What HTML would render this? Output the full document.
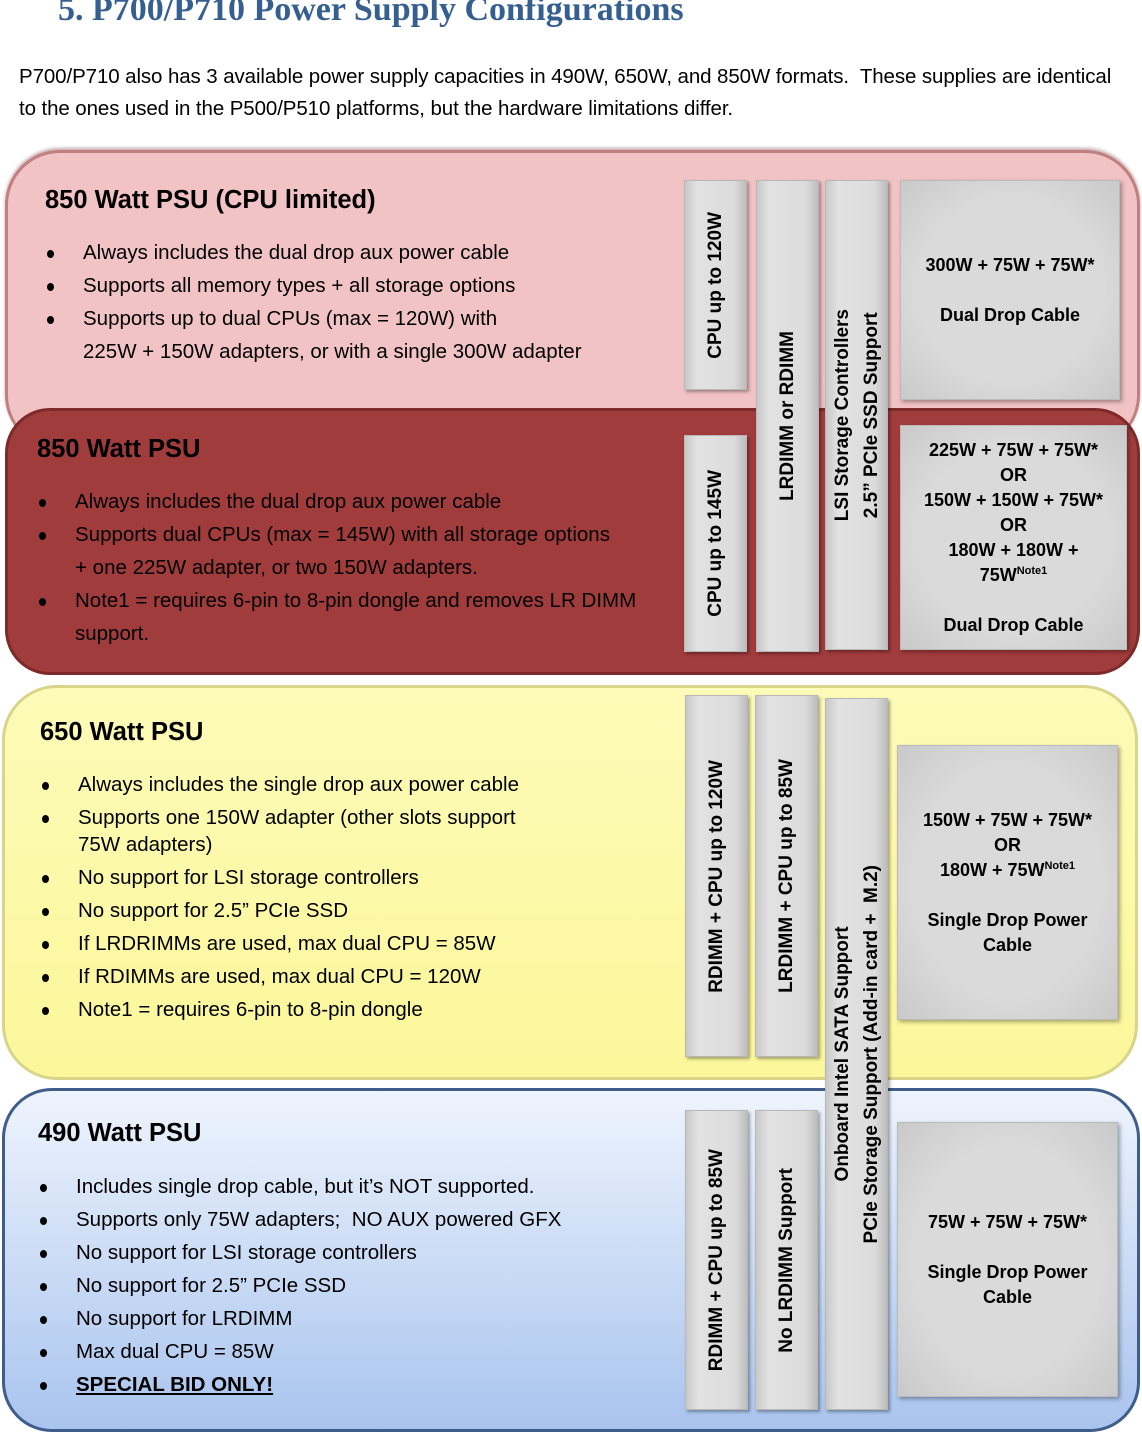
<!DOCTYPE html>
<html><head><meta charset="utf-8"><style>
*{margin:0;padding:0;box-sizing:border-box}
body{width:1142px;height:1434px;background:#fff;position:relative;overflow:hidden;font-family:"Liberation Sans",sans-serif;color:#000}
.a{position:absolute}
.panel{position:absolute;border-radius:55px}
.bar{position:absolute;background:linear-gradient(90deg,#c8c8c8,#e2e2e2 20%,#dcdcdc 80%,#bdbdbd);border:1px solid #b8b8b8;box-shadow:2px 2px 3px rgba(0,0,0,.35);display:flex;align-items:center;justify-content:center}
.bar span{writing-mode:vertical-rl;transform:rotate(180deg);font-weight:bold;font-size:19px;white-space:nowrap;line-height:29px;text-align:center}
.box{position:absolute;background:radial-gradient(ellipse at center,#dadada 60%,#c9c9c9);border:1px solid #bbb;box-shadow:2px 2px 4px rgba(0,0,0,.35);display:flex;align-items:center;justify-content:center;text-align:center;font-weight:bold;font-size:18px;line-height:25px}
.box div{white-space:nowrap}
sup{font-size:11px;vertical-align:7px;line-height:0}
.h{position:absolute;font-size:25.5px;font-weight:bold}
ul{position:absolute;list-style:none;font-size:20.5px;white-space:nowrap}
ul li{position:relative;padding-left:38px}
ul li:before{content:"";position:absolute;left:2px;top:14px;width:7px;height:8px;border-radius:50%;background:#000}
</style></head><body>
<div class="a" style="left:58px;top:-9px;font-family:'Liberation Serif',serif;font-weight:bold;font-size:34px;color:#365f91">5. P700/P710 Power Supply Configurations</div>
<div class="a" style="left:19px;top:61px;font-size:20.5px;line-height:32px;width:1140px;white-space:nowrap;letter-spacing:-0.1px">P700/P710 also has 3 available power supply capacities in 490W, 650W, and 850W formats.&nbsp; These supplies are identical<br>to the ones used in the P500/P510 platforms, but the hardware limitations differ.</div>

<div class="panel" style="left:5px;top:150px;width:1135px;height:300px;background:#f2c3c4;border:3px solid #c08080;box-shadow:0 -2px 3px rgba(120,40,40,.4)"></div>
<div class="panel" style="left:5px;top:408px;width:1135px;height:267px;background:#a13c3c;border:3px solid #7e2a2a;border-radius:45px"></div>
<div class="panel" style="left:2px;top:685px;width:1136px;height:395px;background:linear-gradient(#fdfbb8,#fbf79a);border:3px solid #d8d48a"></div>
<div class="panel" style="left:2px;top:1088px;width:1138px;height:344px;background:linear-gradient(#eef4fd,#a9c4ee);border:3px solid #3e5d8a;border-radius:50px"></div>

<div class="h" style="left:45px;top:186px">850 Watt PSU (CPU limited)</div>
<ul style="left:45px;top:236px;line-height:33px">
<li>Always includes the dual drop aux power cable</li>
<li>Supports all memory types + all storage options</li>
<li>Supports up to dual CPUs (max = 120W) with<br>225W + 150W adapters, or with a single 300W adapter</li></ul>

<div class="h" style="left:37px;top:435px">850 Watt PSU</div>
<ul style="left:37px;top:485px;line-height:33px">
<li>Always includes the dual drop aux power cable</li>
<li>Supports dual CPUs (max = 145W) with all storage options<br>+ one 225W adapter, or two 150W adapters.</li>
<li>Note1 = requires 6-pin to 8-pin dongle and removes LR DIMM<br>support.</li></ul>

<div class="h" style="left:40px;top:718px">650 Watt PSU</div>
<ul style="left:40px;top:768px;line-height:33px">
<li>Always includes the single drop aux power cable</li>
<li style="line-height:27px;padding-top:3px;padding-bottom:3px">Supports one 150W adapter (other slots support<br>75W adapters)</li>
<li>No support for LSI storage controllers</li>
<li>No support for 2.5” PCIe SSD</li>
<li>If LRDRIMMs are used, max dual CPU = 85W</li>
<li>If RDIMMs are used, max dual CPU = 120W</li>
<li>Note1 = requires 6-pin to 8-pin dongle</li></ul>

<div class="h" style="left:38px;top:1119px">490 Watt PSU</div>
<ul style="left:38px;top:1170px;line-height:33px">
<li>Includes single drop cable, but it’s NOT supported.</li>
<li>Supports only 75W adapters;&nbsp; NO AUX powered GFX</li>
<li>No support for LSI storage controllers</li>
<li>No support for 2.5” PCIe SSD</li>
<li>No support for LRDIMM</li>
<li>Max dual CPU = 85W</li>
<li style="font-weight:bold;text-decoration:underline">SPECIAL BID ONLY!</li></ul>

<div class="bar" style="left:684px;top:180px;width:63px;height:210px"><span>CPU up to 120W</span></div>
<div class="bar" style="left:684px;top:435px;width:63px;height:217px"><span>CPU up to 145W</span></div>
<div class="bar" style="left:756px;top:180px;width:63px;height:472px"><span>LRDIMM or RDIMM</span></div>
<div class="bar" style="left:825px;top:180px;width:63px;height:470px"><span>LSI Storage Controllers<br>2.5” PCIe SSD Support</span></div>
<div class="box" style="left:900px;top:180px;width:220px;height:220px"><div>300W + 75W + 75W*<br><br>Dual Drop Cable</div></div>
<div class="box" style="left:900px;top:425px;width:227px;height:225px"><div>225W + 75W + 75W*<br>OR<br>150W + 150W + 75W*<br>OR<br>180W + 180W +<br>75W<sup>Note1</sup><br><br>Dual Drop Cable</div></div>

<div class="bar" style="left:685px;top:695px;width:63px;height:362px"><span>RDIMM + CPU up to 120W</span></div>
<div class="bar" style="left:755px;top:695px;width:63px;height:362px"><span>LRDIMM + CPU up to 85W</span></div>
<div class="bar" style="left:825px;top:698px;width:63px;height:712px"><span>Onboard Intel SATA Support<br>PCIe Storage Support (Add-in card +&nbsp; M.2)</span></div>
<div class="box" style="left:897px;top:745px;width:221px;height:275px"><div>150W + 75W + 75W*<br>OR<br>180W + 75W<sup>Note1</sup><br><br>Single Drop Power<br>Cable</div></div>

<div class="bar" style="left:685px;top:1110px;width:63px;height:300px"><span>RDIMM + CPU up to 85W</span></div>
<div class="bar" style="left:755px;top:1110px;width:63px;height:300px"><span>No LRDIMM Support</span></div>
<div class="box" style="left:897px;top:1122px;width:221px;height:275px"><div>75W + 75W + 75W*<br><br>Single Drop Power<br>Cable</div></div>
</body></html>
